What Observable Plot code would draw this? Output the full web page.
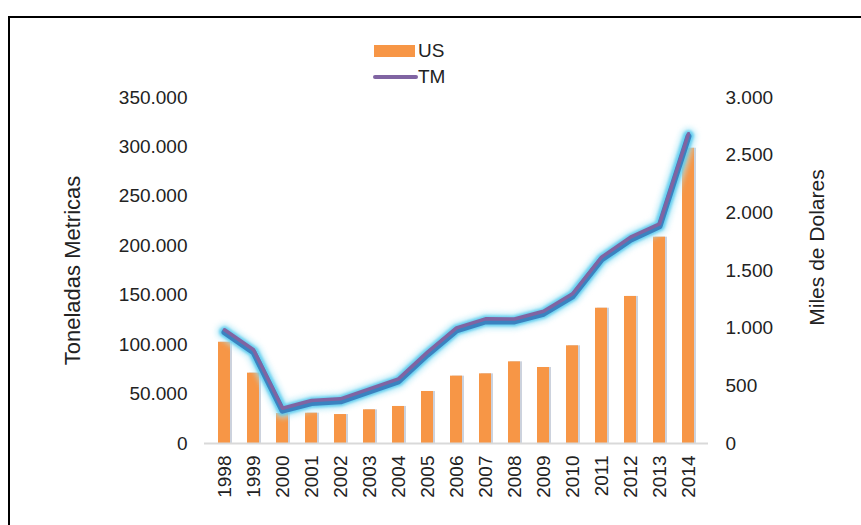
<!DOCTYPE html>
<html>
<head>
<meta charset="utf-8">
<script src="https://cdn.jsdelivr.net/npm/d3@7"></script>
<script src="https://cdn.jsdelivr.net/npm/@observablehq/plot@0.6"></script>
<style>
  html, body { margin: 0; padding: 0; background: #fff; overflow: hidden; }
  #wrap { position: relative; width: 861px; height: 525px; font-family: "Liberation Sans", Arial, sans-serif; color: #222; }
  #frame { position: absolute; left: 8px; top: 16px; width: 900px; height: 600px; border-left: 2px solid #000; border-top: 2px solid #000; pointer-events: none; }
  .leg { position: absolute; font-size: 19px; line-height: 22px; height: 22px; }
</style>
</head>
<body>
<div id="wrap">
  <div id="chart"></div>
  <div id="frame"></div>
  <div style="position:absolute;left:374px;top:45px;width:41px;height:12px;background:#f79646;"></div>
  <div class="leg" style="left:418px;top:40px;">US</div>
  <div style="position:absolute;left:373px;top:75px;width:45px;height:4px;border-radius:2px;background:#8064a2;"></div>
  <div class="leg" style="left:418px;top:66px;">TM</div>
</div>
<script>
// Data
const years = ["1998","1999","2000","2001","2002","2003","2004","2005","2006","2007","2008","2009","2010","2011","2012","2013","2014"];
// US: miles de dólares (right axis), bars
const usValues = [878, 610, 260, 263, 251, 292, 321, 451, 584, 604, 708, 659, 847, 1173, 1275, 1789, 2560];
// TM: toneladas métricas (left axis), line
const tmValues = [115000, 94800, 35700, 43500, 45200, 55300, 65400, 92400, 117000, 126100, 126000, 133800, 151400, 188500, 208700, 222200, 313300];
const leftTicks = [0, 50000, 100000, 150000, 200000, 250000, 300000, 350000];
const rightTicks = [0, 500, 1000, 1500, 2000, 2500, 3000];
const leftTitle = "Toneladas Metricas";
const rightTitle = "Miles de Dolares";

const k = 350000 / 3000; // right-axis units -> left-axis units
const locale = d3.formatLocale({decimal: ",", thousands: ".", grouping: [3], currency: ["$", ""]});
const fmt = locale.format(",");

const bars = years.map((y, i) => ({year: y, v: usValues[i] * k}));
const line = years.map((y, i) => ({year: y, v: tmValues[i]}));

const chart = Plot.plot({
  width: 861,
  height: 525,
  marginLeft: 204,
  marginRight: 153,
  marginTop: 97,
  marginBottom: 82,
  style: {fontFamily: '"Liberation Sans", Arial, sans-serif', fontSize: "19px", color: "#222", background: "#fff"},
  x: {domain: years, paddingInner: 0.57, paddingOuter: 0.29, align: 0.5},
  y: {domain: [0, 350000]},
  marks: [
    Plot.barY(bars, {x: "year", y: "v", fill: "#aab4c6", fillOpacity: 0.6, dx: 2}),
    Plot.barY(bars, {x: "year", y: "v", fill: "#f79646"}),
    Plot.ruleY([0], {stroke: "#d9d9d9", strokeWidth: 2}),
    Plot.lineY(line, {x: "year", y: "v", stroke: "#a8e6f7", strokeWidth: 17, strokeOpacity: 0.6, dy: 2, strokeLinejoin: "round", strokeLinecap: "round", imageFilter: "blur(2.5px)"}),
    Plot.lineY(line, {x: "year", y: "v", stroke: "#5ccbee", strokeWidth: 11, strokeOpacity: 0.85, dy: 2, strokeLinejoin: "round", strokeLinecap: "round", imageFilter: "blur(1.2px)"}),
    Plot.lineY(line, {x: "year", y: "v", stroke: "#3a82c0", strokeWidth: 6, dy: 2.5, strokeLinejoin: "round", strokeLinecap: "round", imageFilter: "blur(0.5px)"}),
    Plot.lineY(line, {x: "year", y: "v", stroke: "#8064a2", strokeWidth: 3.5, strokeLinejoin: "round", strokeLinecap: "round"}),
    Plot.axisY(leftTicks, {anchor: "left", tickSize: 0, tickPadding: 17, tickFormat: fmt, label: null, fill: "#222"}),
    Plot.axisY(rightTicks.map(v => v * k), {anchor: "right", tickSize: 0, tickPadding: 17, tickFormat: d => fmt(Math.round(d / k)), label: null, fill: "#222"}),
    Plot.axisX({tickRotate: -90, tickSize: 0, tickPadding: 12, fontSize: 19, label: null, fill: "#222"}),
    Plot.text([leftTitle], {text: d => d, frameAnchor: "left", textAnchor: "middle", rotate: -90, dx: -132, fontSize: 22, fill: "#222"}),
    Plot.text([rightTitle], {text: d => d, frameAnchor: "right", textAnchor: "middle", rotate: -90, dx: 109, dy: -23, fontSize: 21, fill: "#222"})
  ]
});
document.getElementById("chart").appendChild(chart);
</script>
</body>
</html>
